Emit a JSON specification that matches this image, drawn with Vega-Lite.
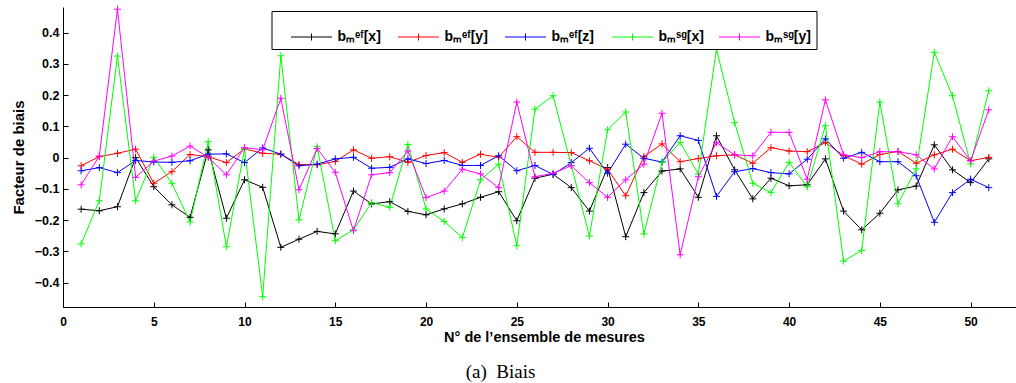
{
  "$schema": "https://vega.github.io/schema/vega-lite/v6.json",
  "width": 953,
  "height": 300,
  "autosize": "none",
  "padding": {"left": 63, "top": 7, "right": 0, "bottom": 76},
  "background": "white",
  "config": {
    "view": {"stroke": null},
    "font": "Liberation Sans"
  },
  "title": {
    "text": "(a)\u00a0 Biais",
    "orient": "bottom",
    "anchor": "middle",
    "font": "Liberation Serif",
    "fontSize": 19,
    "fontWeight": "normal",
    "color": "black",
    "offset": 19,
    "dx": -39
  },
  "data": {
    "values": [
      {"n":1,"s":"K","v":-0.165},{"n":2,"s":"K","v":-0.170},{"n":3,"s":"K","v":-0.157},{"n":4,"s":"K","v":0.000},{"n":5,"s":"K","v":-0.093},{"n":6,"s":"K","v":-0.151},{"n":7,"s":"K","v":-0.191},{"n":8,"s":"K","v":0.025},{"n":9,"s":"K","v":-0.194},{"n":10,"s":"K","v":-0.071},{"n":11,"s":"K","v":-0.095},{"n":12,"s":"K","v":-0.287},{"n":13,"s":"K","v":-0.261},{"n":14,"s":"K","v":-0.236},{"n":15,"s":"K","v":-0.244},{"n":16,"s":"K","v":-0.107},{"n":17,"s":"K","v":-0.148},{"n":18,"s":"K","v":-0.141},{"n":19,"s":"K","v":-0.172},{"n":20,"s":"K","v":-0.183},{"n":21,"s":"K","v":-0.164},{"n":22,"s":"K","v":-0.148},{"n":23,"s":"K","v":-0.127},{"n":24,"s":"K","v":-0.109},{"n":25,"s":"K","v":-0.202},{"n":26,"s":"K","v":-0.066},{"n":27,"s":"K","v":-0.053},{"n":28,"s":"K","v":-0.096},{"n":29,"s":"K","v":-0.171},{"n":30,"s":"K","v":-0.032},{"n":31,"s":"K","v":-0.253},{"n":32,"s":"K","v":-0.112},{"n":33,"s":"K","v":-0.043},{"n":34,"s":"K","v":-0.036},{"n":35,"s":"K","v":-0.127},{"n":36,"s":"K","v":0.070},{"n":37,"s":"K","v":-0.039},{"n":38,"s":"K","v":-0.132},{"n":39,"s":"K","v":-0.066},{"n":40,"s":"K","v":-0.090},{"n":41,"s":"K","v":-0.087},{"n":42,"s":"K","v":-0.004},{"n":43,"s":"K","v":-0.171},{"n":44,"s":"K","v":-0.231},{"n":45,"s":"K","v":-0.178},{"n":46,"s":"K","v":-0.103},{"n":47,"s":"K","v":-0.091},{"n":48,"s":"K","v":0.041},{"n":49,"s":"K","v":-0.039},{"n":50,"s":"K","v":-0.080},{"n":51,"s":"K","v":-0.004},
      {"n":1,"s":"R","v":-0.026},{"n":2,"s":"R","v":0.003},{"n":3,"s":"R","v":0.014},{"n":4,"s":"R","v":0.027},{"n":5,"s":"R","v":-0.082},{"n":6,"s":"R","v":-0.045},{"n":7,"s":"R","v":0.010},{"n":8,"s":"R","v":0.003},{"n":9,"s":"R","v":-0.016},{"n":10,"s":"R","v":0.028},{"n":11,"s":"R","v":0.014},{"n":12,"s":"R","v":0.011},{"n":13,"s":"R","v":-0.022},{"n":14,"s":"R","v":-0.023},{"n":15,"s":"R","v":-0.012},{"n":16,"s":"R","v":0.025},{"n":17,"s":"R","v":-0.002},{"n":18,"s":"R","v":0.003},{"n":19,"s":"R","v":-0.015},{"n":20,"s":"R","v":0.007},{"n":21,"s":"R","v":0.016},{"n":22,"s":"R","v":-0.015},{"n":23,"s":"R","v":0.011},{"n":24,"s":"R","v":0.001},{"n":25,"s":"R","v":0.067},{"n":26,"s":"R","v":0.017},{"n":27,"s":"R","v":0.017},{"n":28,"s":"R","v":0.016},{"n":29,"s":"R","v":-0.010},{"n":30,"s":"R","v":-0.037},{"n":31,"s":"R","v":-0.122},{"n":32,"s":"R","v":0.003},{"n":33,"s":"R","v":0.044},{"n":34,"s":"R","v":-0.013},{"n":35,"s":"R","v":-0.003},{"n":36,"s":"R","v":0.006},{"n":37,"s":"R","v":0.009},{"n":38,"s":"R","v":-0.018},{"n":39,"s":"R","v":0.032},{"n":40,"s":"R","v":0.021},{"n":41,"s":"R","v":0.019},{"n":42,"s":"R","v":0.048},{"n":43,"s":"R","v":0.007},{"n":44,"s":"R","v":-0.021},{"n":45,"s":"R","v":0.010},{"n":46,"s":"R","v":0.020},{"n":47,"s":"R","v":-0.018},{"n":48,"s":"R","v":0.009},{"n":49,"s":"R","v":0.027},{"n":50,"s":"R","v":-0.010},{"n":51,"s":"R","v":0.001},
      {"n":1,"s":"B","v":-0.042},{"n":2,"s":"B","v":-0.032},{"n":3,"s":"B","v":-0.048},{"n":4,"s":"B","v":-0.009},{"n":5,"s":"B","v":-0.014},{"n":6,"s":"B","v":-0.015},{"n":7,"s":"B","v":-0.010},{"n":8,"s":"B","v":0.011},{"n":9,"s":"B","v":0.012},{"n":10,"s":"B","v":-0.016},{"n":11,"s":"B","v":0.031},{"n":12,"s":"B","v":0.011},{"n":13,"s":"B","v":-0.026},{"n":14,"s":"B","v":-0.021},{"n":15,"s":"B","v":-0.004},{"n":16,"s":"B","v":0.001},{"n":17,"s":"B","v":-0.034},{"n":18,"s":"B","v":-0.031},{"n":19,"s":"B","v":-0.004},{"n":20,"s":"B","v":-0.019},{"n":21,"s":"B","v":-0.009},{"n":22,"s":"B","v":-0.025},{"n":23,"s":"B","v":-0.025},{"n":24,"s":"B","v":0.006},{"n":25,"s":"B","v":-0.042},{"n":26,"s":"B","v":-0.025},{"n":27,"s":"B","v":-0.054},{"n":28,"s":"B","v":-0.016},{"n":29,"s":"B","v":0.030},{"n":30,"s":"B","v":-0.050},{"n":31,"s":"B","v":0.043},{"n":32,"s":"B","v":-0.002},{"n":33,"s":"B","v":-0.014},{"n":34,"s":"B","v":0.070},{"n":35,"s":"B","v":0.055},{"n":36,"s":"B","v":-0.124},{"n":37,"s":"B","v":-0.045},{"n":38,"s":"B","v":-0.035},{"n":39,"s":"B","v":-0.048},{"n":40,"s":"B","v":-0.052},{"n":41,"s":"B","v":-0.005},{"n":42,"s":"B","v":0.060},{"n":43,"s":"B","v":-0.002},{"n":44,"s":"B","v":0.017},{"n":45,"s":"B","v":-0.013},{"n":46,"s":"B","v":-0.013},{"n":47,"s":"B","v":-0.058},{"n":48,"s":"B","v":-0.207},{"n":49,"s":"B","v":-0.112},{"n":50,"s":"B","v":-0.069},{"n":51,"s":"B","v":-0.096},
      {"n":1,"s":"G","v":-0.276},{"n":2,"s":"G","v":-0.138},{"n":3,"s":"G","v":0.325},{"n":4,"s":"G","v":-0.138},{"n":5,"s":"G","v":0.001},{"n":6,"s":"G","v":-0.082},{"n":7,"s":"G","v":-0.206},{"n":8,"s":"G","v":0.051},{"n":9,"s":"G","v":-0.285},{"n":10,"s":"G","v":0.027},{"n":11,"s":"G","v":-0.445},{"n":12,"s":"G","v":0.326},{"n":13,"s":"G","v":-0.199},{"n":14,"s":"G","v":0.035},{"n":15,"s":"G","v":-0.266},{"n":16,"s":"G","v":-0.231},{"n":17,"s":"G","v":-0.144},{"n":18,"s":"G","v":-0.159},{"n":19,"s":"G","v":0.042},{"n":20,"s":"G","v":-0.164},{"n":21,"s":"G","v":-0.204},{"n":22,"s":"G","v":-0.256},{"n":23,"s":"G","v":-0.071},{"n":24,"s":"G","v":-0.021},{"n":25,"s":"G","v":-0.282},{"n":26,"s":"G","v":0.155},{"n":27,"s":"G","v":0.198},{"n":28,"s":"G","v":-0.025},{"n":29,"s":"G","v":-0.251},{"n":30,"s":"G","v":0.089},{"n":31,"s":"G","v":0.146},{"n":32,"s":"G","v":-0.244},{"n":33,"s":"G","v":-0.015},{"n":34,"s":"G","v":0.049},{"n":35,"s":"G","v":-0.053},{"n":36,"s":"G","v":0.347},{"n":37,"s":"G","v":0.112},{"n":38,"s":"G","v":-0.082},{"n":39,"s":"G","v":-0.112},{"n":40,"s":"G","v":-0.015},{"n":41,"s":"G","v":-0.093},{"n":42,"s":"G","v":0.102},{"n":43,"s":"G","v":-0.331},{"n":44,"s":"G","v":-0.297},{"n":45,"s":"G","v":0.178},{"n":46,"s":"G","v":-0.148},{"n":47,"s":"G","v":-0.036},{"n":48,"s":"G","v":0.337},{"n":49,"s":"G","v":0.198},{"n":50,"s":"G","v":-0.020},{"n":51,"s":"G","v":0.214},
      {"n":1,"s":"M","v":-0.087},{"n":2,"s":"M","v":0.005},{"n":3,"s":"M","v":0.475},{"n":4,"s":"M","v":-0.063},{"n":5,"s":"M","v":-0.011},{"n":6,"s":"M","v":0.005},{"n":7,"s":"M","v":0.037},{"n":8,"s":"M","v":0.001},{"n":9,"s":"M","v":-0.055},{"n":10,"s":"M","v":0.032},{"n":11,"s":"M","v":0.025},{"n":12,"s":"M","v":0.190},{"n":13,"s":"M","v":-0.103},{"n":14,"s":"M","v":0.029},{"n":15,"s":"M","v":-0.047},{"n":16,"s":"M","v":-0.234},{"n":17,"s":"M","v":-0.055},{"n":18,"s":"M","v":-0.048},{"n":19,"s":"M","v":0.021},{"n":20,"s":"M","v":-0.128},{"n":21,"s":"M","v":-0.107},{"n":22,"s":"M","v":-0.037},{"n":23,"s":"M","v":-0.052},{"n":24,"s":"M","v":-0.096},{"n":25,"s":"M","v":0.178},{"n":26,"s":"M","v":-0.061},{"n":27,"s":"M","v":-0.050},{"n":28,"s":"M","v":-0.026},{"n":29,"s":"M","v":-0.080},{"n":30,"s":"M","v":-0.127},{"n":31,"s":"M","v":-0.071},{"n":32,"s":"M","v":-0.021},{"n":33,"s":"M","v":0.142},{"n":34,"s":"M","v":-0.311},{"n":35,"s":"M","v":-0.061},{"n":36,"s":"M","v":0.048},{"n":37,"s":"M","v":0.009},{"n":38,"s":"M","v":0.006},{"n":39,"s":"M","v":0.081},{"n":40,"s":"M","v":0.081},{"n":41,"s":"M","v":-0.069},{"n":42,"s":"M","v":0.185},{"n":43,"s":"M","v":0.009},{"n":44,"s":"M","v":0.000},{"n":45,"s":"M","v":0.019},{"n":46,"s":"M","v":0.019},{"n":47,"s":"M","v":0.009},{"n":48,"s":"M","v":-0.036},{"n":49,"s":"M","v":0.067},{"n":50,"s":"M","v":-0.010},{"n":51,"s":"M","v":0.153}
    ]
  },
  "mark": {
    "type": "line",
    "strokeWidth": 1,
    "point": {"shape": "M-1,0H1M0,-1V1", "filled": false, "size": 49, "strokeWidth": 1}
  },
  "encoding": {
    "x": {
      "field": "n",
      "type": "quantitative",
      "scale": {"domain": [0, 52.5], "nice": false, "zero": false},
      "axis": {
        "values": [0, 5, 10, 15, 20, 25, 30, 35, 40, 45, 50],
        "title": "N° de l’ensemble de mesures",
        "titleFont": "Liberation Sans",
        "titleFontSize": 14.5,
        "titleFontWeight": "bold",
        "titleColor": "black",
        "titlePadding": 3,
        "titleX": 481,
        "labelFont": "Liberation Sans",
        "labelFontSize": 12,
        "labelFontWeight": "bold",
        "labelColor": "black",
        "labelPadding": 14,
        "tickSize": -5,
        "tickColor": "black",
        "domainColor": "black",
        "grid": false,
        "labelFlush": false
      }
    },
    "y": {
      "field": "v",
      "type": "quantitative",
      "scale": {"domain": [-0.478, 0.482], "nice": false, "zero": false},
      "axis": {
        "values": [-0.4, -0.3, -0.2, -0.1, 0, 0.1, 0.2, 0.3, 0.4],
        "labelExpr": "datum.value == 0 ? '0' : format(datum.value, '.1f')",
        "title": "Facteur de biais",
        "titleFont": "Liberation Sans",
        "titleFontSize": 15,
        "titleFontWeight": "bold",
        "titleColor": "black",
        "titlePadding": 8,
        "labelFont": "Liberation Sans",
        "labelFontSize": 12.5,
        "labelFontWeight": "bold",
        "labelColor": "black",
        "labelPadding": 9,
        "tickSize": -5,
        "tickColor": "black",
        "domainColor": "black",
        "grid": false,
        "labelFlush": false
      }
    },
    "color": {
      "field": "s",
      "type": "nominal",
      "scale": {"domain": ["K", "R", "B", "G", "M"], "range": ["#000000", "#ff0000", "#0000ff", "#00ff00", "#ff00ff"]},
      "legend": {
        "title": null,
        "orient": "none",
        "legendX": 208.5,
        "legendY": 4,
        "direction": "horizontal",
        "columns": 5,
        "gridAlign": "all",
        "symbolType": "M-1,0H1M0,-0.17V0.17",
        "symbolSize": 1681,
        "symbolStrokeWidth": 1,
        "symbolFillColor": "transparent",
        "labelExpr": "datum.label == 'K' ? 'bₘᵉᶠ[x]' : datum.label == 'R' ? 'bₘᵉᶠ[y]' : datum.label == 'B' ? 'bₘᵉᶠ[z]' : datum.label == 'G' ? 'bₘˢᵍ[x]' : 'bₘˢᵍ[y]'",
        "labelFont": "Liberation Sans",
        "labelFontSize": 14,
        "labelFontWeight": "bold",
        "labelColor": "black",
        "labelOffset": 5,
        "columnPadding": 0,
        "padding": 5,
        "symbolOffset": 14,
        "strokeColor": "black",
        "fillColor": "white"
      }
    }
  }
}
